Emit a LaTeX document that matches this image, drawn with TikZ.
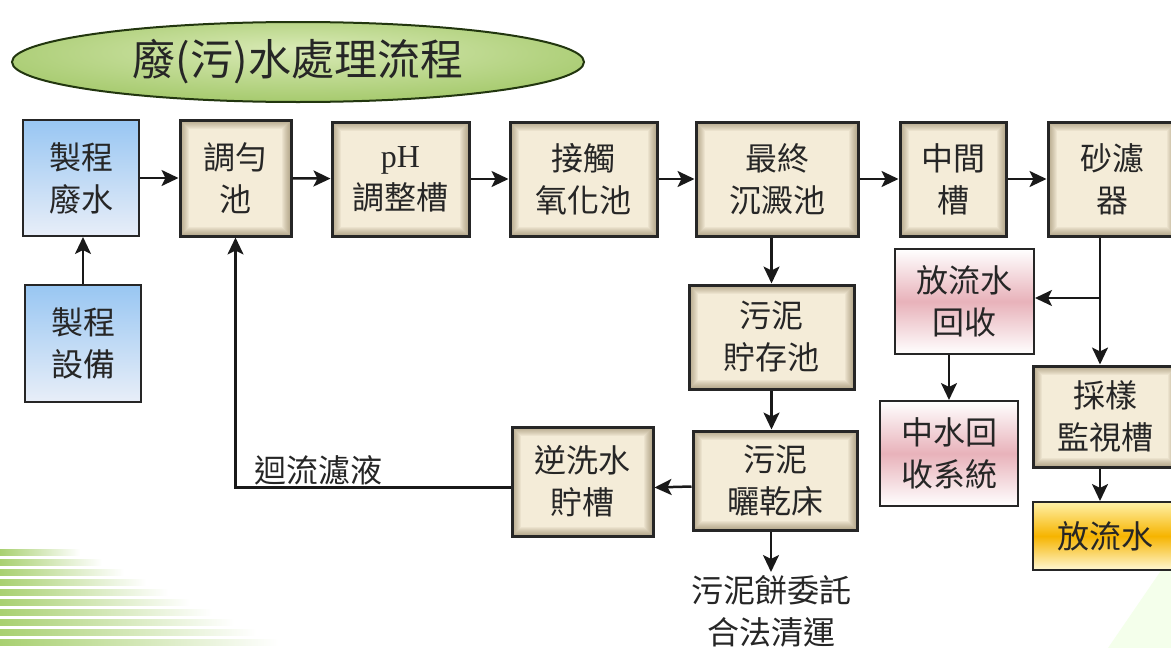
\documentclass[tikz,border=0pt]{standalone}
\usepackage{fontspec}
\setmainfont{Liberation Serif}
\newfontfamily\cjk{Noto Sans CJK TC}
\usetikzlibrary{arrows.meta,shapes.geometric}

\definecolor{tanlight}{HTML}{F4ECD8}
\definecolor{tandark}{HTML}{7A6A45}
\definecolor{bluetop}{HTML}{98C6F2}
\definecolor{bluebot}{HTML}{E8EEF8}
\definecolor{pinkmid}{HTML}{E8B2BA}
\definecolor{goldmid}{HTML}{F6B400}
\definecolor{goldtop}{HTML}{FFF1A8}
\definecolor{leaflight}{HTML}{D9EAB6}
\definecolor{leafmid}{HTML}{A9CC72}
\definecolor{leafdark}{HTML}{5C9628}
\definecolor{leafrim}{HTML}{22360F}
\definecolor{stripe}{HTML}{A8D070}

\pgfdeclareradialshading{titleglow}{\pgfpoint{0bp}{8bp}}{color(0bp)=(leaflight); color(28bp)=(leafmid); color(50bp)=(leafdark); color(72bp)=(leafdark)}

\begin{document}
\begin{tikzpicture}[x=1pt, y=-1pt,
	every node/.style={align=center, text=black!85, font=\cjk\fontsize{32}{42}\selectfont},
	box/.style={rectangle, draw=black!85, line width=2pt, inner sep=0pt},
	tank/.style={box, line width=3pt, fill=tanlight,
		path picture={\foreach \k in {1,...,9}
			\draw[tandark, opacity=0.07, line width=2*\k pt] (path picture bounding box.south west) rectangle (path picture bounding box.north east);}},
	bluebox/.style={box, top color=bluetop, bottom color=bluebot},
	pinkbox/.style={box, top color=white, bottom color=white, middle color=pinkmid},
	goldbox/.style={box, top color=goldtop, bottom color=goldtop!50, middle color=goldmid}]
	
	\tikzset{edge/.style = {->,> = {Stealth[length=17pt,width=16pt,inset=4pt]}, line width=2.5pt, black!90}}
	
	\useasboundingbox (0,0) rectangle (1171,648);
	\fill[white] (0,0) rectangle (1171,648);
	
	% background decoration
	\foreach \i in {0,...,9}
	\shade[left color=stripe, right color=white] (0,{549+10*\i}) rectangle ({80+22*\i},{555+10*\i});
	\fill[green!40!lime!8] (1108,648) -- (1171,556) -- (1171,648) -- cycle;
	
	% title
	\node[ellipse, draw=leafrim, line width=2pt, shading=titleglow, minimum width=572pt, minimum height=80pt, font=\cjk\fontsize{43}{50}\selectfont] (title) at (298,62) {廢(污)水處理流程};
	
	\node[bluebox, minimum width=116pt, minimum height=116pt] (pw) at (81,178) {製程\\廢水};
	\node[bluebox, minimum width=116pt, minimum height=117pt] (pe) at (83,343) {製程\\設備};
	
	\node[tank, minimum width=111pt, minimum height=116pt] (eq) at (235.5,178) {調勻\\池};
	\node[tank, minimum width=137pt, minimum height=114pt] (ph) at (400.5,179) {{\rmfamily pH}\\調整槽};
	\node[tank, minimum width=147pt, minimum height=114pt] (co) at (583.5,179) {接觸\\氧化池};
	\node[tank, minimum width=162pt, minimum height=114pt] (fs) at (777,179) {最終\\沉澱池};
	\node[tank, minimum width=106pt, minimum height=114pt] (mt) at (953,179) {中間\\槽};
	\node[tank, minimum width=128pt, minimum height=114pt] (sf) at (1112,179) {砂濾\\器};
	
	\node[pinkbox, minimum width=139pt, minimum height=105pt] (er) at (964.5,301.5) {放流水\\回收};
	\node[pinkbox, minimum width=138pt, minimum height=105pt] (rs) at (949,453.5) {中水回\\收系統};
	\node[tank, minimum width=144pt, minimum height=101pt] (sm) at (1105,416.5) {採樣\\監視槽};
	\node[goldbox, minimum width=144pt, minimum height=68pt] (ef) at (1105,536) {放流水};
	
	\node[tank, minimum width=165pt, minimum height=104pt] (ss) at (771.5,337) {污泥\\貯存池};
	\node[tank, minimum width=164pt, minimum height=99pt] (sd) at (775,480.5) {污泥\\曬乾床};
	\node[tank, minimum width=141pt, minimum height=109pt] (bw) at (582.5,481.5) {逆洗水\\貯槽};
	
	\node[anchor=north] (cake) at (771,572) {污泥餅委託\\合法清運};
	\node[anchor=south west, inner sep=2pt] (rl) at (252,487) {迴流濾液};
	
	\coordinate (split) at (1100,298);
	
	\foreach \source/\dest in {pw/eq,eq/ph,ph/co,co/fs,fs/mt,mt/sf}
	\draw[edge] (\source) to (\dest);
	
	\draw[edge] (pe.north) -- (pe.north |- pw.south);
	\draw[edge] (ss.north |- fs.south) -- (ss.north);
	\draw[edge] (ss.south) -- (ss.south |- sd.north);
	\draw[edge] ([yshift=-6pt]sd.west) -- ([yshift=-6pt]bw.east);
	\draw[edge] (sd.south -| cake.north) -- (cake.north);
	\draw[edge] ([yshift=-6pt]bw.west) -| (eq.south);
	\draw[line width=2.5pt, black!90] (sf.south -| split) -- (split);
	\draw[edge] (split) -- (er.east |- split);
	\draw[edge] (split) -- (sm.north -| split);
	\draw[edge] (er.south -| rs.north) -- (rs.north);
	\draw[edge] (sm.south -| split) -- (ef.north -| split);
	
\end{tikzpicture}
\end{document}
